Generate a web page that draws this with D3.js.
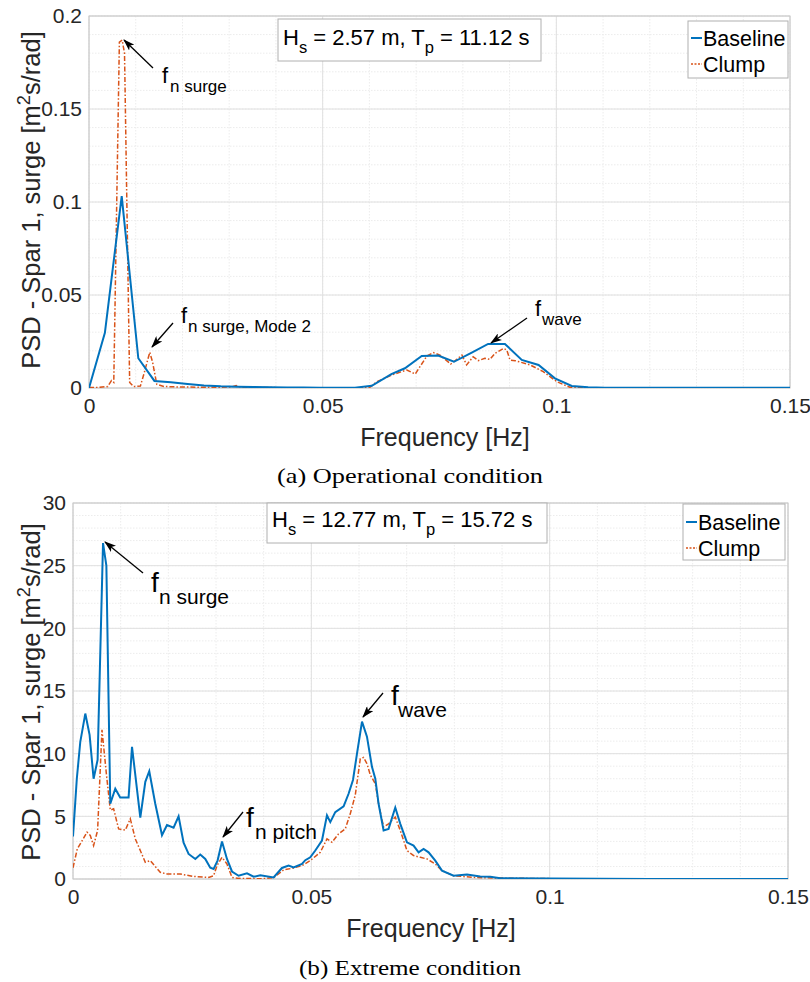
<!DOCTYPE html>
<html><head><meta charset="utf-8">
<script src="https://cdn.jsdelivr.net/npm/d3@7/dist/d3.min.js"></script>
<style>
body{margin:0;background:#fff}
svg text{font-family:"Liberation Sans",Arial,Helvetica,sans-serif;fill:#262626}
</style>
</head><body>
<svg id="c" width="810" height="982"></svg>
<script>
// ---------- data ----------
const xTicks = [0, 0.05, 0.1, 0.15];
const xTickLabels = ["0", "0.05", "0.1", "0.15"];
const yTicksA = [0, 0.05, 0.1, 0.15, 0.2];
const yTickLabelsA = ["0", "0.05", "0.1", "0.15", "0.2"];
const yTicksB = [0, 5, 10, 15, 20, 25, 30];
const yTickLabelsB = ["0", "5", "10", "15", "20", "25", "30"];
const seriesNames = ["Baseline", "Clump"];

// (a) Operational condition: [frequency Hz, PSD]
const baselineA = [
  [0,0],[0.0034,0.0297],[0.0070,0.1032],[0.01055,0.016],[0.0140,0.0038],[0.0175,0.0031],
  [0.0211,0.0022],[0.0246,0.0014],[0.0282,0.0009],[0.0317,0.0007],[0.0353,0.0005],
  [0.0388,0.0004],[0.0424,0.0003],[0.0459,0.0003],[0.0495,0.0002],[0.0530,0.0002],
  [0.0569,0.0002],[0.0605,0.0012],[0.0647,0.0075],[0.0676,0.0106],[0.0712,0.0172],
  [0.0747,0.0175],[0.0781,0.0141],[0.0819,0.0190],[0.0854,0.0237],[0.0890,0.0237],
  [0.0926,0.0151],[0.0962,0.0124],[0.0997,0.0052],[0.1033,0.0011],[0.1068,0.0004],
  [0.1104,0.0002],[0.1139,0.0001],[0.1175,0.0001],[0.1210,0.0001],[0.1246,0.0001],
  [0.1281,0.0001],[0.1317,0.0001],[0.1352,0.0001],[0.1388,0.0001],[0.1423,0.0001],
  [0.1459,0.0001],[0.1500,0.0001]
];
const clumpA = [
  [0,0.0003],[0.002,0.0003],[0.0040,0.0008],[0.0048,0.0040],[0.0053,0.0030],
  [0.0065,0.186],[0.0071,0.187],[0.0076,0.180],[0.0087,0.003],[0.0095,0.0008],
  [0.0110,0.0010],[0.0118,0.008],[0.0130,0.0192],[0.0136,0.014],[0.0145,0.002],
  [0.0160,0.0008],[0.0200,0.0005],[0.0280,0.0004],[0.0305,0.0006],[0.0315,0.0013],
  [0.0325,0.0004],[0.0400,0.0002],[0.0500,0.0002],[0.0580,0.0002],[0.0601,0.0004],
  [0.0616,0.0034],[0.0648,0.0070],[0.0680,0.0097],[0.0698,0.0075],[0.0723,0.0172],
  [0.0737,0.0190],[0.0751,0.0177],[0.0774,0.0129],[0.0787,0.0154],[0.0798,0.0177],
  [0.0808,0.0124],[0.0822,0.0168],[0.0833,0.0147],[0.0847,0.0160],[0.0858,0.0154],
  [0.0869,0.0187],[0.0887,0.0213],[0.0894,0.0204],[0.0901,0.0150],[0.0912,0.0147],
  [0.0944,0.0124],[0.0972,0.0088],[0.1001,0.0034],[0.1029,0.0004],[0.1080,0.0001],
  [0.1200,0.0001],[0.1500,0.0001]
];

// (b) Extreme condition: [frequency Hz, PSD]
const baselineB = [
  [0,3.4],[0.0008,8.0],[0.00153,10.95],[0.00258,13.2],[0.00348,11.5],[0.00432,8.0],
  [0.00516,9.5],[0.0063,26.8],[0.0070,25.0],[0.00782,6.0],[0.00887,7.2],[0.0099,6.5],
  [0.01166,6.5],[0.01238,10.55],[0.01412,4.9],[0.01517,7.75],[0.0160,8.6],[0.01726,6.0],
  [0.01867,3.5],[0.01972,4.3],[0.0211,4.1],[0.02215,5.0],[0.0232,2.9],[0.02425,2.0],
  [0.02566,1.6],[0.0267,1.95],[0.02775,1.6],[0.0288,0.9],[0.0295,0.8],[0.03033,1.47],
  [0.03126,3.0],[0.0323,1.6],[0.03335,0.6],[0.03474,0.26],[0.0365,0.45],[0.03789,0.18],
  [0.0393,0.3],[0.04208,0.13],[0.04384,0.88],[0.04523,1.07],[0.04628,0.93],[0.04804,1.2],
  [0.04873,1.5],[0.04978,1.73],[0.05083,2.27],[0.05223,3.07],[0.05328,5.08],[0.05398,4.54],
  [0.05502,5.34],[0.05677,5.8],[0.05781,6.8],[0.05874,7.9],[0.05958,10.0],[0.06063,12.56],
  [0.06167,11.36],[0.06272,8.95],[0.06342,8.0],[0.06411,6.0],[0.06516,3.87],[0.0662,4.0],
  [0.06761,5.7],[0.06866,4.4],[0.07006,2.93],[0.07145,2.67],[0.0725,2.13],[0.07355,2.4],
  [0.0746,2.13],[0.0760,1.47],[0.07741,0.67],[0.07984,0.26],[0.08265,0.35],[0.08544,0.2],
  [0.08754,0.18],[0.08964,0.06],[0.1000,0.03],[0.1210,0.01],[0.1500,0.01]
];
const clumpB = [
  [0,0.9],[0.0009,2.4],[0.00153,2.8],[0.00294,3.74],[0.00363,3.47],[0.00432,2.67],
  [0.00516,3.87],[0.00608,11.9],[0.0070,8.4],[0.00782,5.5],[0.00852,5.6],[0.00957,4.0],
  [0.01097,3.9],[0.01202,4.8],[0.01307,3.2],[0.01412,2.27],[0.01517,1.33],[0.01622,1.47],
  [0.01726,1.0],[0.01831,0.53],[0.01972,0.4],[0.02251,0.4],[0.0253,0.2],[0.02845,0.13],
  [0.0295,0.26],[0.03021,1.07],[0.03126,1.73],[0.0323,1.2],[0.03335,0.13],[0.03474,0.05],
  [0.0393,0.02],[0.04208,0.1],[0.04418,0.72],[0.04628,0.88],[0.04804,1.07],[0.04978,1.47],
  [0.05188,2.13],[0.05328,3.2],[0.05433,2.93],[0.05572,3.6],[0.05712,4.0],[0.05817,5.2],
  [0.05922,6.7],[0.06027,9.6],[0.06096,9.7],[0.06167,9.2],[0.06237,8.3],[0.06342,7.6],
  [0.06411,6.0],[0.06516,4.14],[0.0662,4.4],[0.06761,4.94],[0.06866,3.87],[0.07006,2.27],
  [0.07145,1.87],[0.07286,1.73],[0.07426,1.6],[0.0760,1.2],[0.07741,0.67],[0.07984,0.26],
  [0.08404,0.13],[0.08823,0.08],[0.1000,0.03],[0.1500,0.01]
];

// ---------- drawing ----------
const BLUE = "#0072BD", ORANGE = "#D95319";
const svg = d3.select("#c");
const defs = svg.append("defs");
defs.append("marker").attr("id","arr").attr("viewBox","0 0 12 8").attr("refX",11).attr("refY",4)
  .attr("markerWidth",12).attr("markerHeight",8).attr("markerUnits","userSpaceOnUse").attr("orient","auto")
  .append("path").attr("d","M0,0 L12,4 L0,8 L3,4 Z").attr("fill","#000");

function subText(g, x, y, main, sub, fs, sfs, dx) {
  const t = g.append("text").attr("x", x).attr("y", y).attr("font-size", fs).style("fill","#000");
  t.append("tspan").text(main);
  t.append("tspan").attr("x", x + dx).attr("dy", sfs*0.55).attr("font-size", sfs).text(sub);
}

function panel(o) {
  const x = d3.scaleLinear().domain([0, 0.15]).range([o.left, o.right]);
  const y = d3.scaleLinear().domain([0, o.yMax]).range([o.bottom, o.top]);
  const g = svg.append("g");
  const clipId = "clip" + o.id;
  defs.append("clipPath").attr("id", clipId).append("rect")
    .attr("x", o.left).attr("y", o.top).attr("width", o.right - o.left).attr("height", o.bottom - o.top);

  // minor grid
  g.append("g").selectAll("line").data(x.ticks(15)).join("line")
    .attr("x1", d => x(d)).attr("x2", d => x(d)).attr("y1", o.top).attr("y2", o.bottom)
    .attr("stroke", "#ececec").attr("stroke-width", 1).attr("stroke-dasharray","1.5,1.5");
  g.append("g").selectAll("line").data(y.ticks(o.minorCount)).join("line")
    .attr("y1", d => y(d)).attr("y2", d => y(d)).attr("x1", o.left).attr("x2", o.right)
    .attr("stroke", "#ececec").attr("stroke-width", 1).attr("stroke-dasharray","1.5,1.5");
  // major grid
  g.append("g").selectAll("line").data(o.xTicks).join("line")
    .attr("x1", d => x(d)).attr("x2", d => x(d)).attr("y1", o.top).attr("y2", o.bottom)
    .attr("stroke", "#e0e0e0").attr("stroke-width", 1);
  g.append("g").selectAll("line").data(o.yTicks).join("line")
    .attr("y1", d => y(d)).attr("y2", d => y(d)).attr("x1", o.left).attr("x2", o.right)
    .attr("stroke", "#e0e0e0").attr("stroke-width", 1);

  // axes
  const xa = g.append("g").attr("transform", `translate(0,${o.bottom})`)
    .call(d3.axisBottom(x).tickValues(o.xTicks).tickFormat((d, i) => o.xLabels[i]).tickSize(0).tickPadding(10));
  xa.select(".domain").remove();
  xa.selectAll("text").attr("font-size", o.tickFs).style("font-family", '"Liberation Sans",Arial,sans-serif').style("fill","#262626");
  const ya = g.append("g").attr("transform", `translate(${o.left},0)`)
    .call(d3.axisLeft(y).tickValues(o.yTicks).tickFormat((d, i) => o.yLabels[i]).tickSize(0).tickPadding(7));
  ya.select(".domain").remove();
  ya.selectAll("text").attr("font-size", o.tickFs).style("font-family", '"Liberation Sans",Arial,sans-serif').style("fill","#262626");

  // frame
  g.append("rect").attr("x", o.left).attr("y", o.top).attr("width", o.right - o.left).attr("height", o.bottom - o.top)
    .attr("fill", "none").attr("stroke", "#c8c8c8").attr("stroke-width", 1);

  // lines
  const line = d3.line().x(d => x(d[0])).y(d => y(d[1]));
  const lg = g.append("g").attr("clip-path", `url(#${clipId})`);
  lg.append("path").datum(o.clump).attr("d", line).attr("fill", "none")
    .attr("stroke", ORANGE).attr("stroke-width", 1.5).attr("stroke-dasharray", "5,2,1.5,2");
  lg.append("path").datum(o.baseline).attr("d", line).attr("fill", "none")
    .attr("stroke", BLUE).attr("stroke-width", 2);

  // axis labels
  g.append("text").attr("x", o.xLabelX).attr("y", o.xLabelY).attr("text-anchor", "middle")
    .attr("font-size", o.xlabelFs).text("Frequency [Hz]");
  const yl = g.append("text").attr("transform", `translate(${o.yLabelX},${o.yLabelY}) rotate(-90)`)
    .attr("text-anchor", "middle").attr("font-size", o.ylabelFs);
  yl.append("tspan").text("PSD - Spar 1, surge [m");
  yl.append("tspan").attr("dy", -10).attr("font-size", o.ylabelFs * 0.72).text("2");
  yl.append("tspan").attr("dy", 10).text("s/rad]");

  // condition box
  const b = o.box;
  g.append("rect").attr("x", b.x).attr("y", b.y).attr("width", b.w).attr("height", b.h)
    .attr("fill", "#fff").attr("stroke", "#b0b0b0").attr("stroke-width", 1);
  const bt = g.append("text").attr("x", b.x + 5).attr("y", b.base).attr("font-size", b.fs).style("fill","#000");
  bt.append("tspan").text("H");
  bt.append("tspan").attr("dy", 8).attr("font-size", b.fs * 0.75).text("s");
  bt.append("tspan").attr("dy", -8).text(b.hs);
  bt.append("tspan").attr("dy", 8).attr("font-size", b.fs * 0.75).text("p");
  bt.append("tspan").attr("dy", -8).text(b.tp);

  // legend
  const L = o.legend;
  g.append("rect").attr("x", L.x).attr("y", L.y).attr("width", L.w).attr("height", L.h)
    .attr("fill", "#fff").attr("stroke", "#b0b0b0").attr("stroke-width", 1);
  const colors = [BLUE, ORANGE];
  seriesNames.forEach((nm, i) => {
    const cy = L.y + L.rowY[i];
    g.append("line").attr("x1", L.x + 3).attr("x2", L.x + 14).attr("y1", cy).attr("y2", cy)
      .attr("stroke", colors[i]).attr("stroke-width", i ? 1.5 : 2).attr("stroke-dasharray", i ? "2,1.5" : null);
    g.append("text").attr("x", L.x + 15).attr("y", cy + L.fs * 0.36).attr("font-size", L.fs).style("fill","#000").text(nm);
  });

  // annotations
  o.notes.forEach(n => {
    g.append("line").attr("x1", n.tx).attr("y1", n.ty).attr("x2", n.hx).attr("y2", n.hy)
      .attr("stroke", "#000").attr("stroke-width", 1.3).attr("marker-end", "url(#arr)");
    subText(g, n.fx, n.fy, "f", n.sub, n.fs, n.sfs, n.sdx);
  });

  // caption
  svg.append("text").attr("x", o.capX).attr("y", o.capY).attr("text-anchor", "middle")
    .attr("font-size", 22).style("font-family", '"Liberation Serif","Times New Roman",serif').style("fill","#000")
    .attr("textLength", o.capW).attr("lengthAdjust", "spacingAndGlyphs")
    .text(o.caption);
}

panel({
  id: "a", left: 89, right: 790, top: 16, bottom: 388, yMax: 0.2, minorCount: 20,
  xTicks: xTicks, xLabels: xTickLabels, yTicks: yTicksA, yLabels: yTickLabelsA,
  baseline: baselineA, clump: clumpA, tickFs: 21, xlabelFs: 25, ylabelFs: 25.5,
  xLabelX: 445, xLabelY: 446, yLabelX: 40, yLabelY: 200,
  box: {x: 278, y: 19, w: 263, h: 42, base: 45, fs: 22, hs: " = 2.57 m, T", tp: " = 11.12 s"},
  legend: {x: 688, y: 21, w: 100, h: 57, rowY: [17, 43], fs: 21.5},
  notes: [
    {tx: 153, ty: 68, hx: 124, hy: 40, fx: 162, fy: 83, sub: "n surge", fs: 22, sfs: 17, sdx: 8},
    {tx: 173, ty: 323, hx: 152, hy: 347, fx: 181, fy: 323, sub: "n surge, Mode 2", fs: 22, sfs: 17, sdx: 7},
    {tx: 527, ty: 318, hx: 491, hy: 343, fx: 535, fy: 316, sub: "wave", fs: 22, sfs: 17, sdx: 7}
  ],
  caption: "(a) Operational condition", capX: 410, capY: 483, capW: 266
});

panel({
  id: "b", left: 73, right: 788, top: 503, bottom: 879, yMax: 30, minorCount: 30,
  xTicks: xTicks, xLabels: xTickLabels, yTicks: yTicksB, yLabels: yTickLabelsB,
  baseline: baselineB, clump: clumpB, tickFs: 21, xlabelFs: 25, ylabelFs: 25.5,
  xLabelX: 431, xLabelY: 937, yLabelX: 40, yLabelY: 692,
  box: {x: 267, y: 503, w: 280, h: 40, base: 527, fs: 22, hs: " = 12.77 m, T", tp: " = 15.72 s"},
  legend: {x: 683, y: 504, w: 102, h: 56, rowY: [18, 44], fs: 21.5},
  notes: [
    {tx: 143, ty: 573, hx: 105, hy: 542, fx: 151, fy: 592, sub: "n surge", fs: 28, sfs: 21, sdx: 8},
    {tx: 243, ty: 812, hx: 223, hy: 837, fx: 246, fy: 827, sub: "n pitch", fs: 28, sfs: 21, sdx: 9},
    {tx: 383, ty: 693, hx: 363, hy: 717, fx: 391, fy: 705, sub: "wave", fs: 28, sfs: 21, sdx: 7}
  ],
  caption: "(b) Extreme condition", capX: 410, capY: 975, capW: 222
});
</script>
</body></html>
